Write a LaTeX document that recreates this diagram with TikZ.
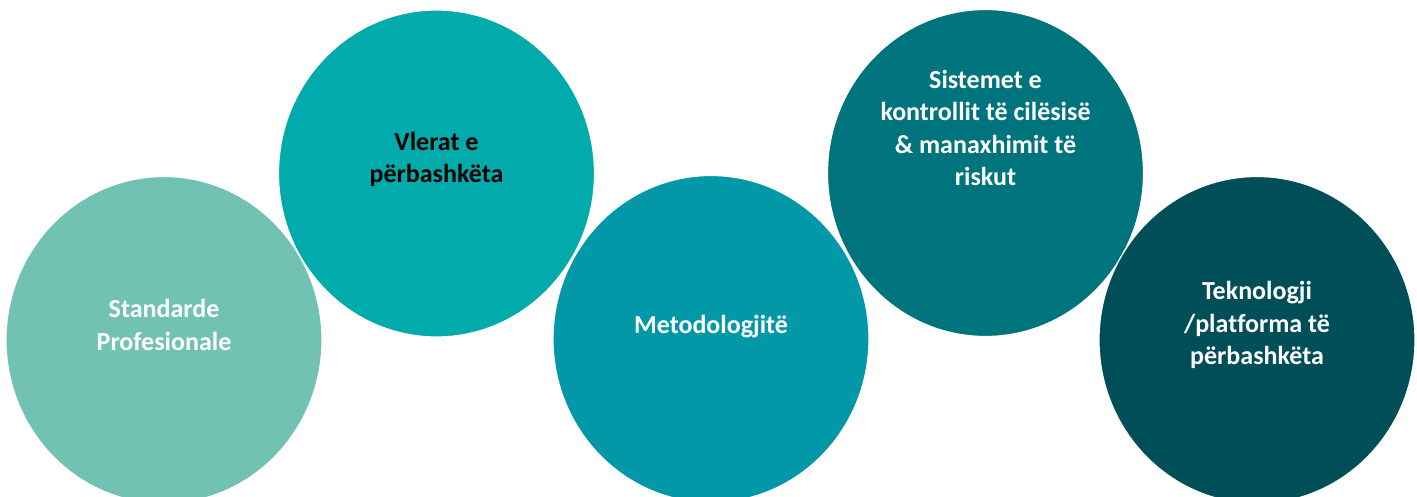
\documentclass[tikz,border=0pt]{standalone}
\usepackage{fontspec}
\setmainfont{Carlito}[Ligatures=NoCommon]
\usepackage{tikz}
\usetikzlibrary{positioning, shapes.geometric}

\definecolor{bubbleA}{HTML}{72C2B4}
\definecolor{bubbleB}{HTML}{02ABAB}
\definecolor{bubbleC}{HTML}{0298A8}
\definecolor{bubbleD}{HTML}{00747C}
\definecolor{bubbleE}{HTML}{004F58}

\begin{document}
\begin{tikzpicture}[x=1pt, y=-1pt,
  bubble/.style={ellipse, draw=white, line width=1.2pt, minimum width=316pt, minimum height=327pt, inner sep=0pt},
  caption/.style={align=center, text=white, font=\bfseries\fontsize{26}{32.5}\selectfont}]

\clip (0,0) rectangle (1417,497);

\node [bubble, fill=bubbleA] (std)  at (164,340)   {};
\node [bubble, fill=bubbleB] (vlr)  at (436.5,173.5) {};
\node [bubble, fill=bubbleC] (met)  at (711,339)   {};
\node [bubble, fill=bubbleD] (sist) at (985.5,173) {};
\node [bubble, fill=bubbleE] (tek)  at (1257,340)  {};

\node [caption] (stdtxt)  at ([yshift=15pt]std.center)  {Standarde\\Profesionale};
\node [caption, text=black] (vlrtxt) at ([yshift=14pt]vlr.center) {Vlerat e\\përbashkëta};
\node [caption] (mettxt)  at ([yshift=12pt]met.center)  {Metodologjitë};
\node [caption] (sisttxt) at ([yshift=45pt]sist.center) {Sistemet e\\kontrollit të cilësisë\\\& manaxhimit të\\riskut};
\node [caption] (tektxt)  at ([yshift=15pt]tek.center)  {Teknologji\\/platforma të\\përbashkëta};

\end{tikzpicture}
\end{document}
